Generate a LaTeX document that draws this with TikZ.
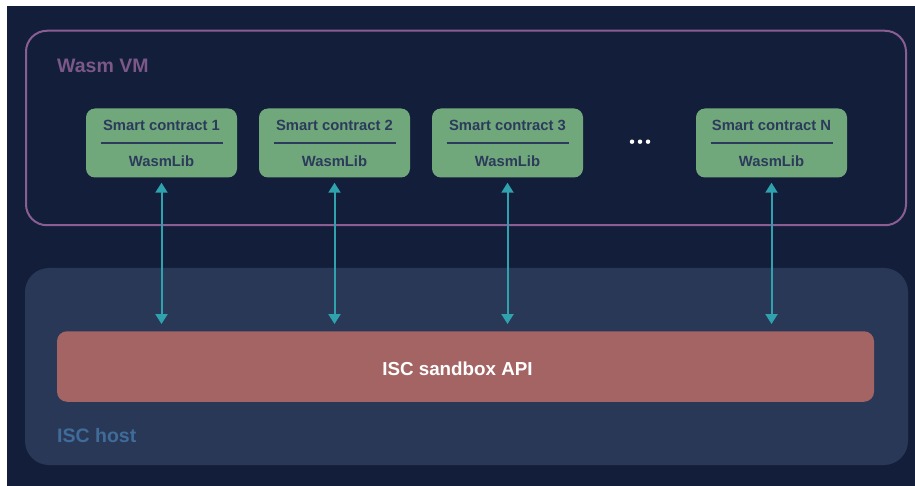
\documentclass[tikz,border=0pt]{standalone}
\usepackage{fontspec}
\setmainfont{Liberation Sans}
\usetikzlibrary{arrows.meta}
\definecolor{bgc}{HTML}{121E3A}
\definecolor{hostc}{HTML}{2A3857}
\definecolor{vmline}{HTML}{8A5E92}
\definecolor{vmtext}{HTML}{7C5889}
\definecolor{hosttext}{HTML}{3F6C9A}
\definecolor{greenc}{HTML}{71A87B}
\definecolor{navytext}{HTML}{2C3A5C}
\definecolor{redc}{HTML}{A46464}
\definecolor{tealc}{HTML}{2FA2AE}
\tikzset{
  contract/.style={fill=greenc, rounded corners=9pt, minimum width=151pt, minimum height=69pt, inner sep=0pt},
  ctitle/.style={anchor=base, text=navytext, font=\fontsize{14.8}{16}\selectfont\bfseries, inner sep=0pt},
  sepline/.style={draw=navytext, line width=2pt},
  link/.style={draw=tealc, line width=2pt, {Triangle[width=12pt,length=10pt]}-{Triangle[width=12pt,length=10pt]}},
  grouplabel/.style={anchor=base west, font=\fontsize{19.5}{22}\selectfont\bfseries, inner sep=0pt},
  dotc/.style={circle, fill=white, minimum size=4.5pt, inner sep=0pt}
}
\begin{document}
\begin{tikzpicture}[x=1pt,y=-1pt]
\useasboundingbox (0,0) rectangle (915,486);
\fill[white] (-5,-5) rectangle (920,491);
\fill[bgc] (7,6) rectangle (920,491);
% ISC host
\node[fill=hostc, rounded corners=24pt, minimum width=883pt, minimum height=197pt, inner sep=0pt] (host) at (466.5,366.5) {};
\node[grouplabel, text=hosttext] (hostlbl) at (57,442.5) {ISC host};
% Wasm VM
\node[draw=vmline, line width=2pt, rounded corners=21pt, minimum width=880pt, minimum height=194.5pt, inner sep=0pt] (vm) at (466,128) {};
\node[grouplabel, text=vmtext] (vmlbl) at (57,73) {Wasm VM};
% API
\node[fill=redc, rounded corners=10pt, minimum width=817pt, minimum height=70.5pt, inner sep=0pt] (api) at (465.5,366.5) {};
\node[anchor=base, inner sep=0pt, text=white, font=\fontsize{18.8}{22}\selectfont\bfseries] (apilbl) at (457.5,375) {ISC sandbox API};
% contracts
\foreach \i/\x/\t in {1/161.5/1, 2/334.5/2, 3/507.5/3, 4/771.5/N}{
  \node[contract] (c\i) at (\x,143) {};
  \node[ctitle] (t\i) at (\x,131) {Smart contract \t};
  \node[ctitle] (w\i) at (\x,167) {WasmLib};
  \draw[sepline] ([xshift=-61pt,yshift=0.3pt]c\i.center) -- ([xshift=61pt,yshift=0.3pt]c\i.center);
  \draw[link] ([yshift=-5pt]c\i.south) -- ([yshift=7pt]c\i.south |- api.north);
}
% dots
\node[dotc] (d1) at (632,141.7) {};
\node[dotc] (d2) at (640,141.7) {};
\node[dotc] (d3) at (648,141.7) {};
\end{tikzpicture}
\end{document}
